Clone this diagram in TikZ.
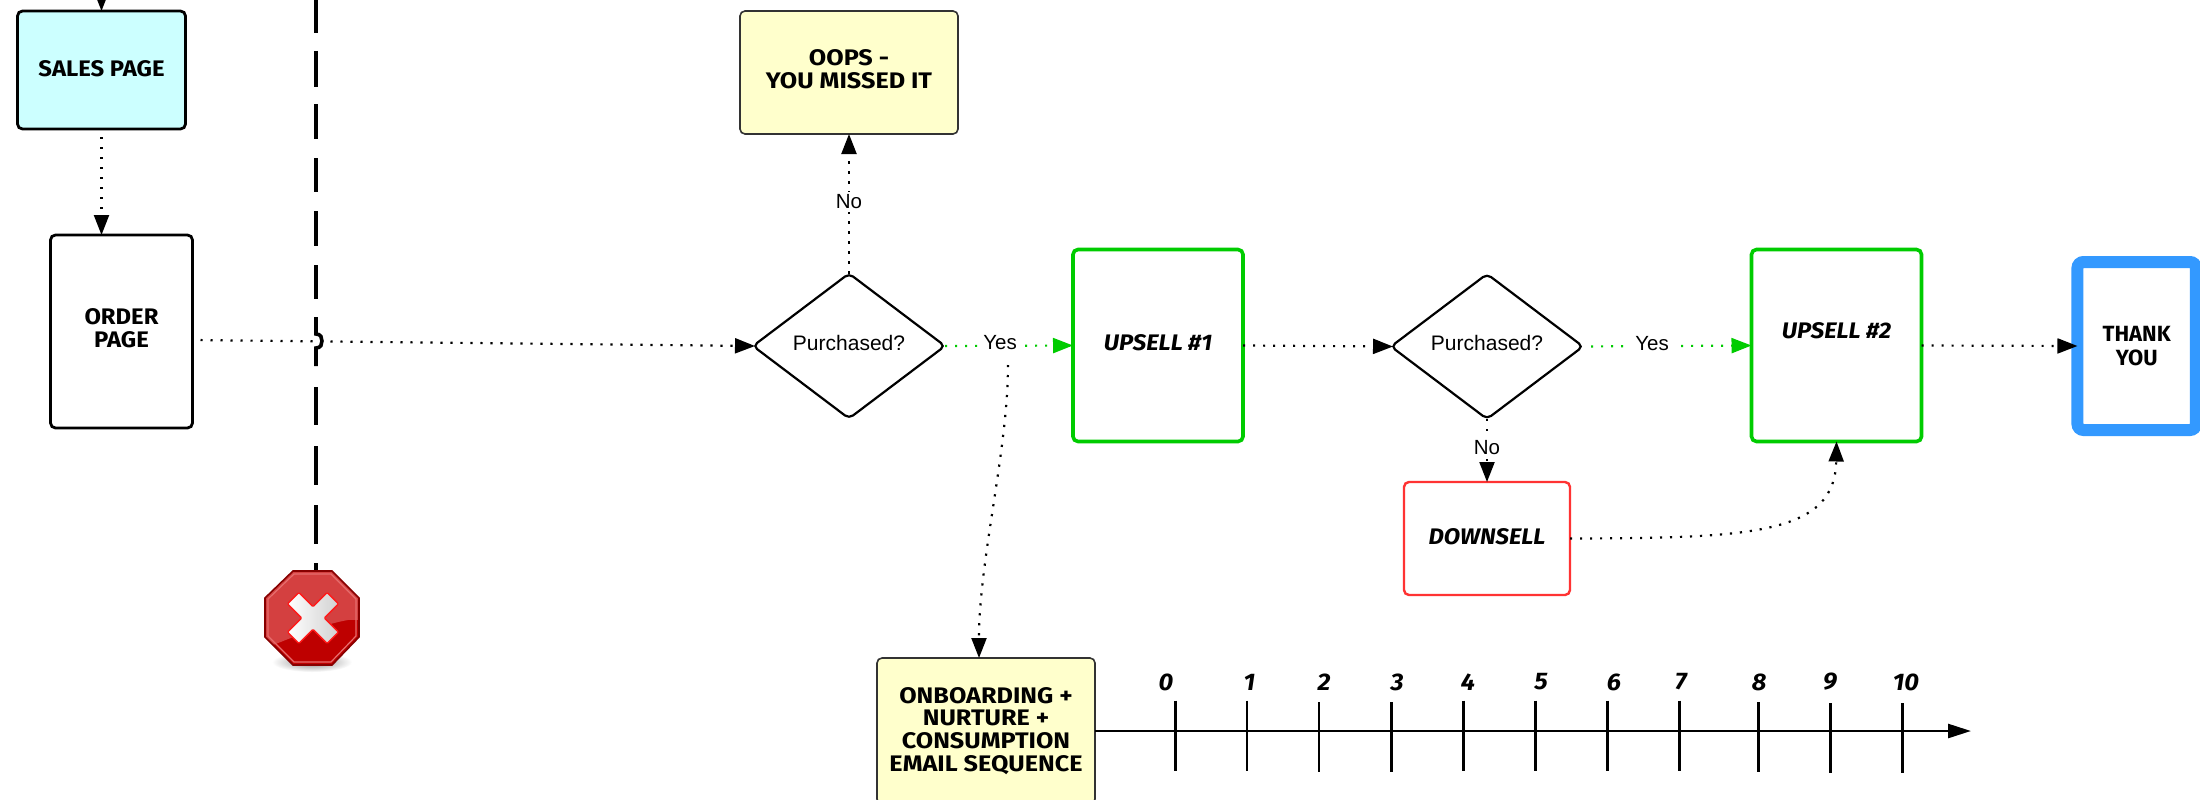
\documentclass[tikz,border=0pt]{standalone}
\usepackage{fontspec}
\setmainfont{Liberation Sans}
\newfontfamily\comic{Fira Sans}[FakeStretch=1.06]
\newfontfamily\comicwide{Fira Sans}[FakeStretch=1.12]
\newfontfamily\comicplain{Fira Sans}
\usetikzlibrary{arrows.meta,shapes.geometric}
\definecolor{cyanfill}{HTML}{CCFFFF}
\definecolor{yellowfill}{HTML}{FFFFCC}
\definecolor{upgreen}{HTML}{00CC00}
\definecolor{downred}{HTML}{FF3333}
\definecolor{tyblue}{HTML}{3399FF}
\tikzset{
  box/.style={rectangle,rounded corners=5pt,inner sep=0pt,outer sep=0pt,align=center,
    font=\comic\bfseries\fontsize{22.5}{23.5}\selectfont},
  slanted/.style={font=\comic\bfseries\itshape\fontsize{22.5}{23.5}\selectfont},
  decision/.style={diamond,draw=black,line width=2.2pt,rounded corners=5pt,inner sep=0pt,outer sep=0pt,
    aspect=1.32,minimum width=192pt,minimum height=145pt,font=\fontsize{21}{24}\selectfont},
  flow/.style={draw=black,line width=2.2pt,dash pattern=on 2.2pt off 7.8pt,
    -{Triangle[length=20pt,width=15pt]}},
  greenflow/.style={flow,draw=upgreen,-{Triangle[length=20pt,width=15pt,color=upgreen]}},
  cond/.style={fill=white,inner xsep=5pt,inner ysep=3pt,font=\fontsize{20.5}{24}\selectfont},
  axisline/.style={draw=black,line width=2.6pt},
  ticknum/.style={font=\comic\bfseries\itshape\fontsize{24}{24}\selectfont},
  barrier/.style={draw=black,line width=3.6pt}
}
\begin{document}
\begin{tikzpicture}[x=1pt,y=-1pt]
\clip (0,0) rectangle (2200,800);
\fill[white] (0,0) rectangle (2200,800);

% boxes
\node[box,draw=black,line width=2.8pt,fill=cyanfill,minimum width=168pt,minimum height=118pt] (sales) at (101.5,70) {\raisebox{3pt}{SALES PAGE}};
\node[box,draw=black,line width=2.8pt,fill=white,minimum width=142pt,minimum height=193pt] (order) at (121.5,331.5) {\raisebox{2pt}{\begin{tabular}{@{}c@{}}ORDER\\[-0.5pt]PAGE\end{tabular}}};
\node[box,draw=black!80,line width=1.6pt,fill=yellowfill,minimum width=218pt,minimum height=123pt,font=\comicwide\bfseries\fontsize{22.5}{23.5}\selectfont] (oops) at (849,72.5) {\raisebox{3pt}{\begin{tabular}{@{}c@{}}OOPS -\\YOU MISSED IT\end{tabular}}};
\node[decision] (d1) at (849,346) {\raisebox{7pt}{Purchased?}};
\node[box,slanted,draw=upgreen,line width=3.6pt,fill=white,minimum width=170pt,minimum height=192pt] (up1) at (1158,345.5) {\raisebox{6pt}{UPSELL \#1}};
\node[decision] (d2) at (1487,346.5) {\raisebox{7pt}{Purchased?}};
\node[box,slanted,draw=upgreen,line width=3.6pt,fill=white,minimum width=170pt,minimum height=192pt] (up2) at (1836.5,345.5) {\raisebox{29pt}{UPSELL \#2}};
\node[box,draw=tyblue,line width=12pt,fill=white,rounded corners=6pt,minimum width=118.5pt,minimum height=168pt,font=\comicplain\bfseries\fontsize{22}{23.5}\selectfont] (ty) at (2136.7,346) {THANK\\YOU};
\node[box,slanted,draw=downred,line width=2.4pt,fill=white,minimum width=166pt,minimum height=113pt] (down) at (1487,538.5) {\raisebox{3pt}{DOWNSELL}};
\node[box,draw=black!80,line width=1.6pt,fill=yellowfill,minimum width=218pt,minimum height=146pt,font=\comicwide\bfseries\fontsize{22.5}{22.8}\selectfont] (email) at (986,731) {ONBOARDING +\\NURTURE +\\CONSUMPTION\\EMAIL SEQUENCE};

% barrier with a line jump
\draw[barrier] (316,-5) -- (316,33);
\foreach \ya/\yb in {51/87,104/139,158/192,211/246,265/299,387/425,446/485,505/544,563/572}
  \draw[barrier] (316,\ya) -- (316,\yb);
\draw[barrier] (316,317) -- (316,334) .. controls (321,334) and (322,338) .. (322,341) .. controls (322,344) and (321,348) .. (316,348) -- (316,366);

% stop icon
\shade[inner color=black!45,outer color=white] (312,662) ellipse [x radius=40,y radius=10];
\begin{scope}
  \clip (293,571) -- (332,571) -- (359,598) -- (359,637) -- (332,665) -- (293,665) -- (265,637) -- (265,598) -- cycle;
  \fill[color={rgb,255:red,190;green,0;blue,0}] (260,565) rectangle (365,670);
  \fill[color={rgb,255:red,212;green,64;blue,64}] (260,565) rectangle (365,620) ;
  \fill[color={rgb,255:red,212;green,64;blue,64}] (260,620) -- (260,650) .. controls (300,635) and (330,620) .. (365,618) -- cycle;
\end{scope}
\draw[color={rgb,255:red,230;green,110;blue,110},line width=1.2pt] (294,574) -- (331,574) -- (356,599) -- (356,636) -- (331,662) -- (294,662) -- (268,636) -- (268,599) -- cycle;
\draw[color={rgb,255:red,135;green,0;blue,0},line width=1.6pt] (293,571) -- (332,571) -- (359,598) -- (359,637) -- (332,665) -- (293,665) -- (265,637) -- (265,598) -- cycle;
\begin{scope}[shift={(313,618)},rotate=45]
  \shade[left color=white,right color=black!18,draw=red!90!white,line width=1.4pt,rounded corners=1pt]
    (-28,-8) -- (-8,-8) -- (-8,-28) -- (8,-28) -- (8,-8) -- (28,-8) -- (28,8) -- (8,8) -- (8,28) -- (-8,28) -- (-8,8) -- (-28,8) -- cycle;
\end{scope}

% connectors
\coordinate (entry) at (101.5,-20);
\draw[flow] (entry) -- (sales.north);
\draw[flow,shorten <=8pt] (sales.south) -- (order.north -| sales.south);
\draw[flow,shorten <=8pt,shorten >=-2pt] ([yshift=-8.5pt]order.east) -- (d1.west);
\draw[flow] (d1.north) -- node[cond,pos=.52,yshift=-1pt] (no1) {No} (oops.south);
\draw[greenflow] (d1.east) -- node[cond,pos=.43,yshift=3pt] (yes1) {Yes} (up1.west);
\draw[flow,shorten >=-2pt] (up1.east) -- (d2.west);
\draw[greenflow,shorten <=8pt] (d2.east) -- node[cond,pos=.41,yshift=3pt] (yes2) {Yes} (up2.west);
\draw[flow] (up2.east) -- (ty.west);
\draw[flow] (d2.south) -- node[cond,pos=.45] (no2) {No} (down.north);
\coordinate (drop) at (1008,365);
\draw[flow] (drop) .. controls (1008,450) and (979,560) .. (email.north -| 979,0);
\draw[flow] (down.east) .. controls (1750,538) and (1835,535) .. (up2.south);

% timeline
\coordinate (axisend) at (1971,731);
\draw[axisline,-{Triangle[length=23pt,width=14pt]}] (email.east |- axisend) -- (axisend);
\foreach \tx/\ya/\yb/\lx/\num in {1175.5/700.5/770.5/1166/0,1247/700.5/770.5/1249.5/1,1319/702/772/1324/2,1391.5/702/772/1397/3,1463.5/700.5/770.5/1468/4,1535.5/700.5/770.5/1541/5,1607.5/700.5/770.5/1614/6,1679.5/700.5/770.5/1681/7,1758.5/702/772/1759/8,1830.5/703/773/1830/9,1902.5/703/773/1906/10}{
  \draw[axisline] (\tx,\ya) -- (\tx,\yb);
  \node[ticknum] (n\num) at (\lx,682) {\num};
}
\end{tikzpicture}
\end{document}
